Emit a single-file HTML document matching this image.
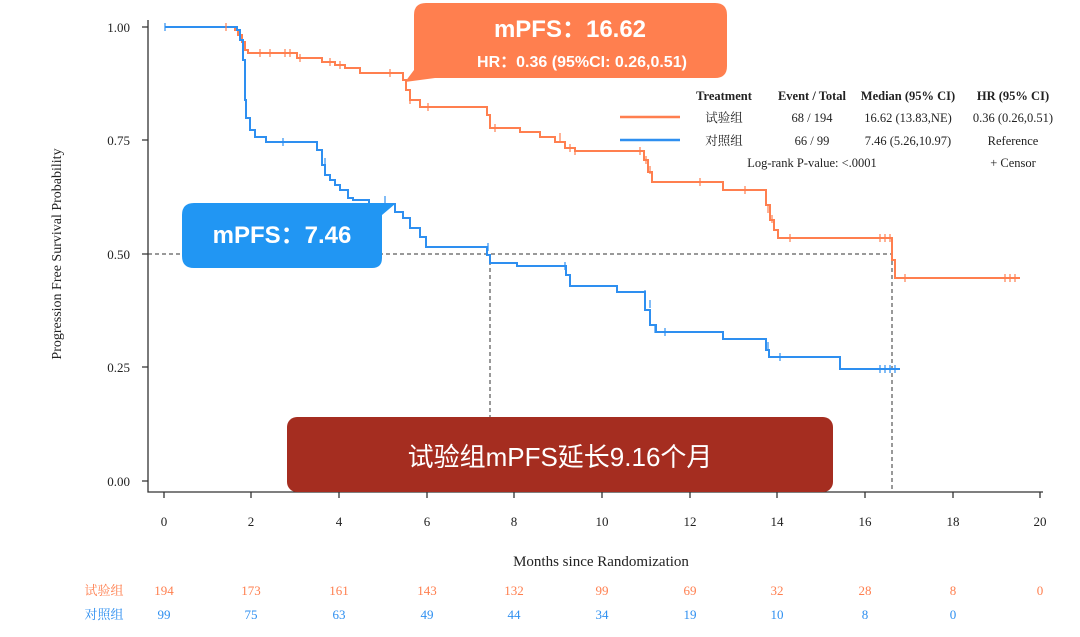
<!DOCTYPE html>
<html><head><meta charset="utf-8"><style>
html,body{margin:0;padding:0;background:#fff;}
svg{display:block;}
.s{font-family:"Liberation Serif","Noto Serif CJK SC",serif;}
.c{font-family:"Liberation Serif","Noto Serif CJK SC",serif;}
</style></head><body>
<svg width="1080" height="637" viewBox="0 0 1080 637" xmlns="http://www.w3.org/2000/svg">
<rect width="1080" height="637" fill="#fff"/>
<g stroke="#333" stroke-width="1.3" fill="none">
<path d="M148,20 V492 H1043"/>
<path d="M142,27H148 M142,140H148 M142,254H148 M142,367H148 M142,481H148"/>
<path d="M164,492v6 M251,492v6 M339,492v6 M427,492v6 M514,492v6 M602,492v6 M690,492v6 M777,492v6 M865,492v6 M953,492v6 M1040,492v6"/>
</g>
<g class="s" font-size="13" fill="#222" text-anchor="end">
<text x="130" y="32">1.00</text><text x="130" y="145">0.75</text><text x="130" y="259">0.50</text><text x="130" y="372">0.25</text><text x="130" y="486">0.00</text>
</g>
<g class="s" font-size="13" fill="#222" text-anchor="middle">
<text x="164" y="526">0</text><text x="251" y="526">2</text><text x="339" y="526">4</text><text x="427" y="526">6</text><text x="514" y="526">8</text><text x="602" y="526">10</text><text x="690" y="526">12</text><text x="777" y="526">14</text><text x="865" y="526">16</text><text x="953" y="526">18</text><text x="1040" y="526">20</text>
<text x="601" y="566" font-size="15">Months since Randomization</text>
<text transform="translate(61,254) rotate(-90)" font-size="14">Progression Free Survival Probability</text>
</g>
<g stroke="#333" stroke-width="1" stroke-dasharray="4,3" fill="none">
<path d="M148,254H892 M490,254V492 M892,254V492"/>
</g>
<path fill="none" stroke="#ff7f4f" stroke-width="2" d="M223,27H235V30H238V35H242V42H245V50H248V53H297V58H322V62H335V65H345V68H360V73H403V80H406V90H410V100H420V107H487V115H490V128H520V132H540V137H555V142H565V148H575V151H644V160H648V172H652V182H723V190H766V205H770V220H774V230H778V238H892V260H895V278H1020"/>
<path fill="none" stroke="#2e8ff0" stroke-width="2" d="M165,27H237V30H240V40H243V60H245V100H246V118H250V130H255V137H266V142H317V150H322V165H325V175H330V180H335V185H340V190H348V198H353V200H369V204H395V212H403V218H410V228H420V237H426V247H487V255H490V263H517V266H566V275H570V286H617V292H645V310H650V325H656V332H723V339H766V350H769V357H840V369H900"/>
<g stroke="#ff7f4f" stroke-width="1.2">
<path d="M226,23v8 M260,49v8 M270,49v8 M285,49v8 M290,49v8 M300,54v8 M330,58v8 M340,61v8 M390,69v8 M410,96v8 M428,103v8 M495,124v8 M560,133v8 M570,144v8 M575,147v8 M640,147v8 M646,156v8 M650,166v8 M700,178v8 M745,186v8 M768,205v8 M772,215v8 M790,234v8 M880,234v8 M885,234v8 M890,234v8 M905,274v8 M1005,274v8 M1010,274v8 M1015,274v8"/>
</g>
<g stroke="#2e8ff0" stroke-width="1.2">
<path d="M165,23v8 M283,138v8 M325,158v8 M385,196v8 M488,243v8 M490,256v8 M565,262v8 M570,278v8 M645,290v8 M650,300v8 M655,325v8 M665,328v8 M768,342v8 M780,353v8 M880,365v8 M885,365v8 M890,365v8 M895,365v8"/>
</g>
<g class="c" font-size="12.5" fill="#222" text-anchor="middle">
<text x="724" y="100" font-weight="bold">Treatment</text>
<text x="812" y="100" font-weight="bold">Event / Total</text>
<text x="908" y="100" font-weight="bold">Median (95% CI)</text>
<text x="1013" y="100" font-weight="bold">HR (95% CI)</text>
<text x="724" y="122">试验组</text><text x="812" y="122">68 / 194</text><text x="908" y="122">16.62 (13.83,NE)</text><text x="1013" y="122">0.36 (0.26,0.51)</text>
<text x="724" y="145">对照组</text><text x="812" y="145">66 / 99</text><text x="908" y="145">7.46 (5.26,10.97)</text><text x="1013" y="145">Reference</text>
<text x="812" y="167">Log-rank P-value: &lt;.0001</text><text x="1013" y="167">+  Censor</text>
</g>
<path d="M620,117H680" stroke="#ff7f4f" stroke-width="2.5"/>
<path d="M620,140H680" stroke="#2e8ff0" stroke-width="2.5"/>
<path d="M420,3H715Q727,3 727,15V66Q727,78 715,78H435L405,82L414,70V15Q414,3 426,3Z" fill="#ff7f4f"/>
<g font-family="Liberation Sans, Noto Sans CJK SC, sans-serif" font-weight="bold" fill="#fff" text-anchor="middle">
<text x="570" y="37" font-size="24">mPFS：16.62</text>
<text x="582" y="67" font-size="16">HR：0.36 (95%CI: 0.26,0.51)</text>
</g>
<path d="M194,203H380L395,204L382,215V258Q382,268 372,268H194Q182,268 182,256V215Q182,203 194,203Z" fill="#2196f3"/>
<text x="282" y="243" font-family="Liberation Sans, Noto Sans CJK SC, sans-serif" font-weight="bold" font-size="24" fill="#fff" text-anchor="middle">mPFS：7.46</text>
<rect x="287" y="417" width="546" height="75" rx="10" fill="#a52d20"/>
<text x="560" y="466" font-family="Liberation Sans, Noto Sans CJK SC, sans-serif" font-size="26" fill="#fff" text-anchor="middle">试验组mPFS延长9.16个月</text>
<g class="c" font-size="13" text-anchor="middle" fill="#ff7f4f">
<text x="104" y="595">试验组</text>
<text x="164" y="595">194</text><text x="251" y="595">173</text><text x="339" y="595">161</text><text x="427" y="595">143</text><text x="514" y="595">132</text><text x="602" y="595">99</text><text x="690" y="595">69</text><text x="777" y="595">32</text><text x="865" y="595">28</text><text x="953" y="595">8</text><text x="1040" y="595">0</text>
</g>
<g class="c" font-size="13" text-anchor="middle" fill="#2e8ff0">
<text x="104" y="619">对照组</text>
<text x="164" y="619">99</text><text x="251" y="619">75</text><text x="339" y="619">63</text><text x="427" y="619">49</text><text x="514" y="619">44</text><text x="602" y="619">34</text><text x="690" y="619">19</text><text x="777" y="619">10</text><text x="865" y="619">8</text><text x="953" y="619">0</text>
</g>
</svg>
</body></html>
